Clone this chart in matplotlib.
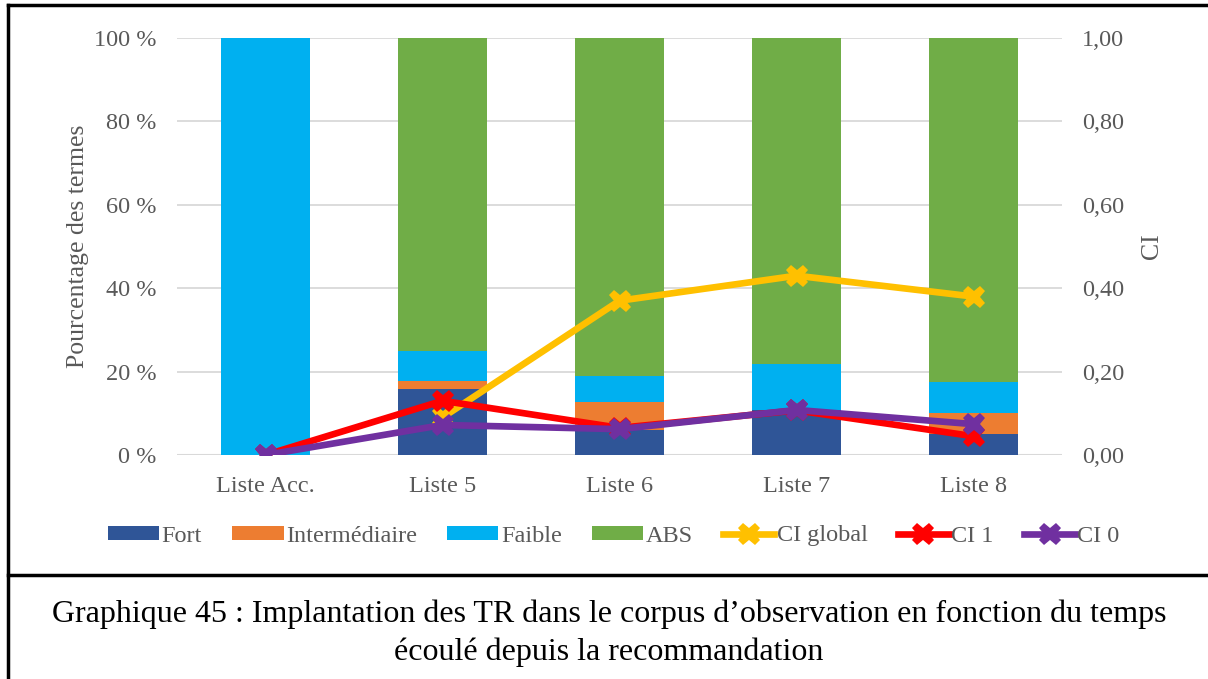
import numpy as np
import matplotlib
matplotlib.use("Agg")
import matplotlib.pyplot as plt
from matplotlib.lines import Line2D
from matplotlib.ticker import FuncFormatter

plt.rcParams['font.family'] = ['Liberation Serif', 'DejaVu Serif']

categories = ["Liste Acc.", "Liste 5", "Liste 6", "Liste 7", "Liste 8"]
fort = [0.0, 15.8, 6.0, 10.9, 5.0]
intermediaire = [0.0, 1.9, 6.8, 0.0, 5.0]
faible = [100.0, 7.2, 6.2, 10.9, 7.5]
abs_ = [0.0, 75.1, 81.0, 78.2, 82.5]

ci_global = [np.nan, 0.09, 0.37, 0.43, 0.38]
ci_1 = [0.0, 0.13, 0.065, 0.107, 0.045]
ci_0 = [0.0, 0.072, 0.062, 0.108, 0.074]

bar_series = [("Fort", fort, "#2F5597"),
              ("Intermédiaire", intermediaire, "#ED7D31"),
              ("Faible", faible, "#00B0F0"),
              ("ABS", abs_, "#70AD47")]
line_series = [("CI global", ci_global, "#FFC000"),
               ("CI 1", ci_1, "#FF0000"),
               ("CI 0", ci_0, "#7030A0")]

W, H = 1208, 679
fig = plt.figure(figsize=(W / 100, H / 100), dpi=100)
ax = fig.add_axes([177 / W, 1 - 455 / H, (1062 - 177) / W, (455 - 38) / H])
ax2 = ax.twinx()

x = np.arange(len(categories))
bottom = np.zeros(len(categories))
handles = []
for name, vals, col in bar_series:
    b = ax.bar(x, vals, 0.5, bottom=bottom, color=col, label=name, zorder=2)
    bottom += np.array(vals)
    handles.append(b)

for name, vals, col in line_series:
    ln, = ax2.plot(x, vals, color=col, lw=4.8, marker="X", markersize=16,
                   markeredgewidth=0, label=name, zorder=3)
    handles.append(ln)

grey = "#595959"
ax.set_xlim(-0.5, len(categories) - 0.5)
ax.set_ylim(0, 100)
ax2.set_ylim(0, 1)
ax.set_yticks(np.arange(0, 101, 20))
ax2.set_yticks(np.arange(0, 1.01, 0.2))
ax.yaxis.set_major_formatter(FuncFormatter(lambda v, p: f"{v:.0f} %"))
ax2.yaxis.set_major_formatter(FuncFormatter(lambda v, p: f"{v:.2f}".replace(".", ",")))
ax.set_xticks(x)
ax.set_xticklabels(categories)

ax.grid(axis="y", color="#D9D9D9", lw=1.3, zorder=0)
ax.set_axisbelow(True)
for a in (ax, ax2):
    for s in a.spines.values():
        s.set_visible(False)
    a.tick_params(length=0, labelsize=17.5, labelcolor=grey)
ax.tick_params(axis="y", pad=15)
ax2.tick_params(axis="y", pad=14.5)
ax.tick_params(axis="x", pad=15)
ax.axhline(0, color="#D9D9D9", lw=1.5, zorder=1)

ax.set_ylabel("Pourcentage des termes", fontsize=18.5, color=grey, labelpad=3)
ax2.set_ylabel("CI", fontsize=18.5, color=grey, labelpad=12)

fig.legend(handles=handles, labels=[h.get_label() for h in handles],
           loc="center", bbox_to_anchor=(614 / W, 1 - 536 / H), ncol=7,
           frameon=False, fontsize=17.5, labelcolor=grey, handlelength=2.1,
           handleheight=0.5, handletextpad=0.1, columnspacing=1.25)

# frame around the figure and caption
fig.add_artist(Line2D([8 / W, 8 / W], [0, 1 - 5 / H], color="black", lw=2.5, transform=fig.transFigure))
fig.add_artist(Line2D([8 / W, 1], [1 - 5 / H, 1 - 5 / H], color="black", lw=2.5, transform=fig.transFigure))
fig.add_artist(Line2D([8 / W, 1], [1 - 575 / H, 1 - 575 / H], color="black", lw=2.5, transform=fig.transFigure))

fig.text(609 / W, 1 - 614 / H,
         "Graphique 45 : Implantation des TR dans le corpus d\u2019observation en fonction du temps",
         ha="center", va="center", fontsize=23, color="black")
fig.text(609 / W, 1 - 652 / H, "écoulé depuis la recommandation",
         ha="center", va="center", fontsize=23, color="black")

fig.savefig("out.png", dpi=100)
